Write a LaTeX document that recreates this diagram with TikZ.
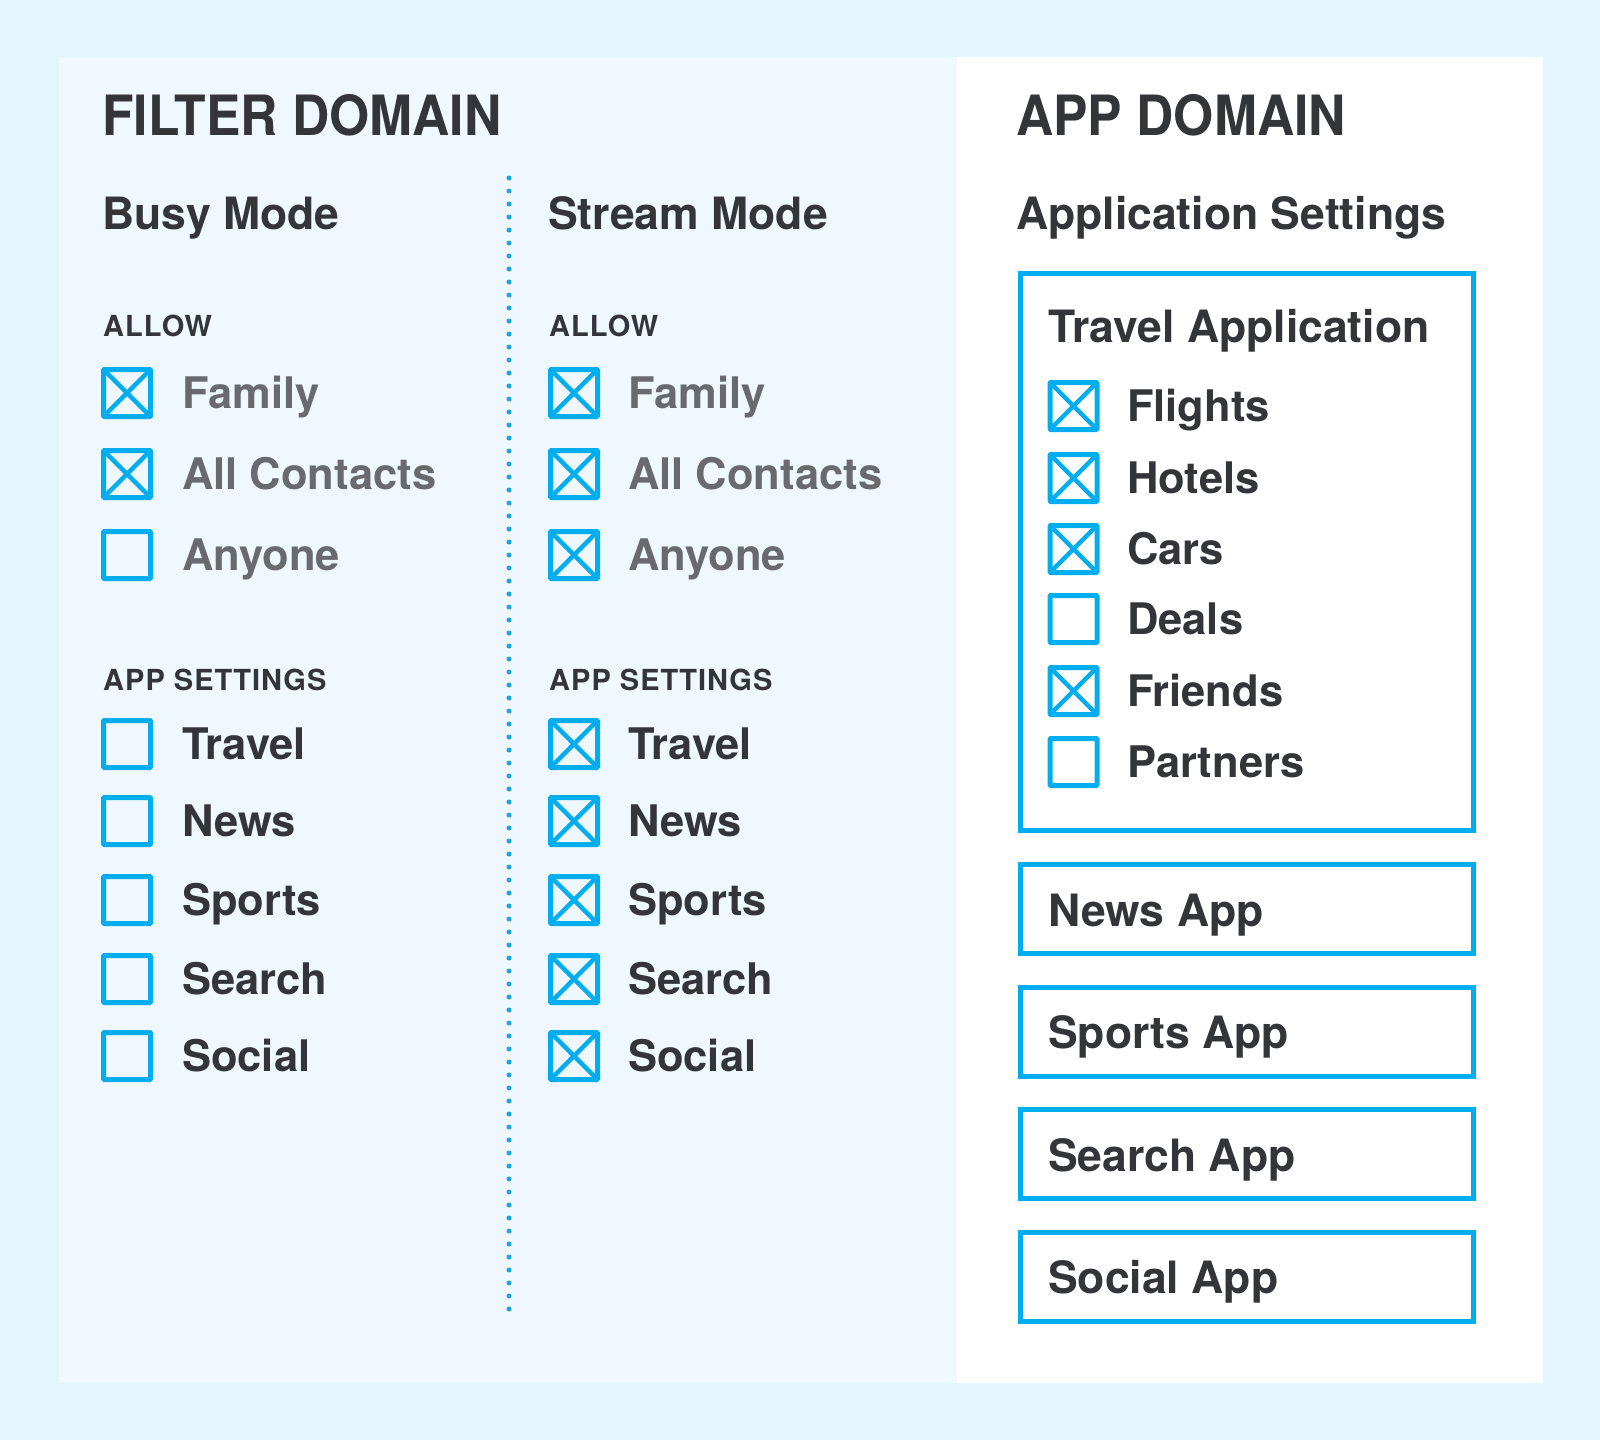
\documentclass[tikz,border=0pt]{standalone}
\usepackage{fontspec}
\setmainfont{TeX Gyre Heros}
\newfontfamily\titlefont{TeX Gyre Heros}[FakeStretch=0.93]
\newfontfamily\capsfont{TeX Gyre Heros}[LetterSpace=3.5]
\usetikzlibrary{calc}

\definecolor{skyback}{HTML}{E3F5FD}
\definecolor{filterback}{HTML}{EFF8FE}
\definecolor{boxblue}{HTML}{00AEEF}
\definecolor{dotblue}{HTML}{1AA7DE}
\definecolor{inkdark}{HTML}{333539}
\definecolor{inkgrey}{HTML}{696A6E}

\begin{document}
\begin{tikzpicture}[x=1pt,y=-1pt,
	title/.style={anchor=base west,inner sep=0pt,text=inkdark,font=\titlefont\bfseries\fontsize{55.5}{60}\selectfont},
	head/.style={anchor=base west,inner sep=0pt,text=inkdark,font=\bfseries\fontsize{44.5}{50}\selectfont},
	smallcap/.style={anchor=base west,inner sep=0pt,text=inkdark,font=\capsfont\bfseries\fontsize{29}{34}\selectfont},
	item/.style={anchor=base west,inner sep=0pt,text=inkdark,font=\bfseries\fontsize{43.5}{50}\selectfont},
	greyitem/.style={item,text=inkgrey},
	cbox/.style={draw=boxblue,line width=5pt,minimum size=47pt,inner sep=0pt,outer sep=0pt,rounded corners=1pt},
	xline/.style={draw=boxblue,line width=4.5pt,line cap=round,shorten <=4pt,shorten >=4pt},
	appbox/.style={draw=boxblue,line width=5pt,minimum width=453pt,inner sep=0pt,outer sep=0pt,anchor=north west},
	dotline/.style={draw=dotblue,line width=5pt,line cap=round,dash pattern=on 0pt off 13pt}]

	% panels
	\fill[skyback] (0,0) rectangle (1600,1440);
	\fill[filterback] (59,57) rectangle (957,1383);
	\fill[white] (957,57) rectangle (1543,1383);
	\useasboundingbox (0,0) rectangle (1600,1440);

	\node[title] (filtertitle) at (102,135) {FILTER DOMAIN};
	\node[title] (apptitle) at (1016,135) {APP DOMAIN};

	\node[head] (busy) at (102,229) {Busy Mode};
	\node[head] (stream) at (548,229) {Stream Mode};
	\node[head] (appset) at (1016,229) {Application Settings};

	\coordinate (dtop) at (509,178);
	\coordinate (dbot) at (509,1316);
	\draw[dotline] (dtop) -- (dbot);

	% busy mode
	\node[smallcap] (busyallow) at (103,336) {ALLOW};
	\node[smallcap] (busyapps) at (103,690) {APP SETTINGS};
	\foreach \y/\t/\c/\n in {393/Family/1/bfam, 474/All Contacts/1/ball, 555/Anyone/0/bany}{
		\node[cbox] (\n) at (127,\y) {};
		\node[greyitem] (\n-txt) at (182,\y+15.5) {\t};
		\ifnum\c=1 \draw[xline] (\n.north west) -- (\n.south east); \draw[xline] (\n.north east) -- (\n.south west); \fi
	}
	\foreach \y/\t/\c/\n in {744/Travel/0/btra, 821/News/0/bnew, 900/Sports/0/bspo, 979/Search/0/bsea, 1056/Social/0/bsoc}{
		\node[cbox] (\n) at (127,\y) {};
		\node[item] (\n-txt) at (182,\y+15.5) {\t};
		\ifnum\c=1 \draw[xline] (\n.north west) -- (\n.south east); \draw[xline] (\n.north east) -- (\n.south west); \fi
	}

	% stream mode
	\node[smallcap] (streamallow) at (549,336) {ALLOW};
	\node[smallcap] (streamapps) at (549,690) {APP SETTINGS};
	\foreach \y/\t/\c/\n in {393/Family/1/sfam, 474/All Contacts/1/sall, 555/Anyone/1/sany}{
		\node[cbox] (\n) at (574,\y) {};
		\node[greyitem] (\n-txt) at (628,\y+15.5) {\t};
		\ifnum\c=1 \draw[xline] (\n.north west) -- (\n.south east); \draw[xline] (\n.north east) -- (\n.south west); \fi
	}
	\foreach \y/\t/\c/\n in {744/Travel/1/stra, 821/News/1/snew, 900/Sports/1/sspo, 979/Search/1/ssea, 1056/Social/1/ssoc}{
		\node[cbox] (\n) at (574,\y) {};
		\node[item] (\n-txt) at (628,\y+15.5) {\t};
		\ifnum\c=1 \draw[xline] (\n.north west) -- (\n.south east); \draw[xline] (\n.north east) -- (\n.south west); \fi
	}

	% app domain
	\node[appbox,minimum height=557pt] (travelbox) at (1020.5,273.5) {};
	\node[head] (traveltxt) at (1048,342) {Travel Application};
	\foreach \y/\t/\c/\n in {406/Flights/1/aflt, 478/Hotels/1/ahot, 549/Cars/1/acar, 619/Deals/0/adea, 691/Friends/1/afri, 762/Partners/0/apar}{
		\node[cbox] (\n) at (1073.5,\y) {};
		\node[item] (\n-txt) at (1127,\y+15.5) {\t};
		\ifnum\c=1 \draw[xline] (\n.north west) -- (\n.south east); \draw[xline] (\n.north east) -- (\n.south west); \fi
	}
	\foreach \y/\t/\n in {864.5/News App/newsbox, 987/Sports App/sportsbox, 1109.5/Search App/searchbox, 1232/Social App/socialbox}{
		\node[appbox,minimum height=89pt] (\n) at (1020.5,\y) {};
		\node[head] (\n-txt) at ($(\n.west)+(27.5,17)$) {\t};
	}
\end{tikzpicture}
\end{document}
